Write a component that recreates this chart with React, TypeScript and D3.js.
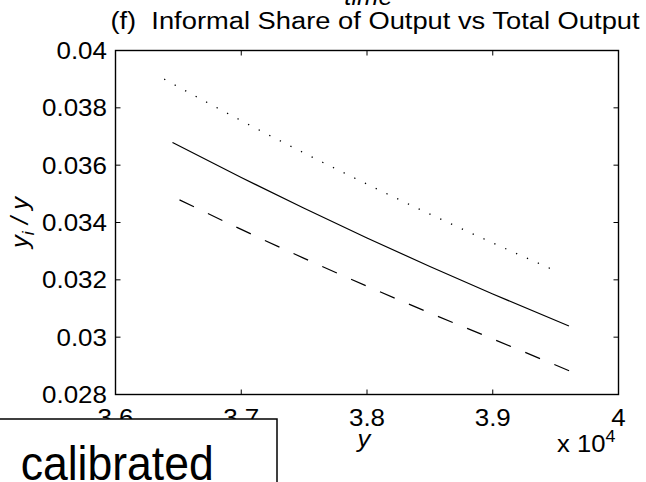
import React from "react";
import * as d3 from "d3";

// Total output (levels) and informal share of output for the three paths
const outputDotted = [36387, 37000, 37500, 38000, 38500, 39000, 39473];
const shareDotted = [0.039, 0.037553, 0.036423, 0.035338, 0.034293, 0.033288, 0.032366];

const outputSolid = [36453, 37000, 37500, 38000, 38500, 39000, 39606];
const shareSolid = [0.03679, 0.03557, 0.034495, 0.03346, 0.032465, 0.031505, 0.03039];

const outputDashed = [36509, 37000, 37500, 38000, 38500, 39000, 39650];
const shareDashed = [0.03479, 0.033759, 0.032749, 0.031779, 0.030844, 0.029939, 0.02875];

const xTicks = [36000, 37000, 38000, 39000, 40000];
const yTicks = [0.028, 0.03, 0.032, 0.034, 0.036, 0.038, 0.04];

const titleText = "(f)  Informal Share of Output vs Total Output";
const upperLabel = "time";
const boxLabel = "calibrated";

const W = 646;
const H = 482;
const left = 115.5;
const right = 618.5;
const top = 50.5;
const bottom = 394.5;
const font = "'Liberation Sans', Arial, Helvetica, sans-serif";
const stretch = 1.115; // glyphs are slightly wider than plain Arial

type TProps = {
  x: number;
  y: number;
  size: number;
  anchor?: "start" | "middle" | "end";
  italic?: boolean;
  children: React.ReactNode;
};

// Text drawn with a horizontal stretch about its anchor point
function T({ x, y, size, anchor = "start", italic, children }: TProps) {
  return (
    <text
      transform={`translate(${x},${y}) scale(${stretch},1)`}
      textAnchor={anchor}
      fontSize={size}
      fontStyle={italic ? "italic" : undefined}
      style={{ whiteSpace: "pre" }}
    >
      {children}
    </text>
  );
}

export default function App() {
  const x = d3.scaleLinear().domain([36000, 40000]).range([left, right]);
  const y = d3.scaleLinear().domain([0.028, 0.04]).range([bottom, top]);

  const line = d3
    .line<[number, number]>()
    .x((d) => x(d[0]))
    .y((d) => y(d[1]))
    .curve(d3.curveMonotoneX);

  const zip = (a: number[], b: number[]) => a.map((v, i) => [v, b[i]] as [number, number]);

  const series = [
    { xs: outputDotted, ys: shareDotted, dash: "1.3 10.6", width: 1.3 },
    { xs: outputSolid, ys: shareSolid, dash: undefined, width: 1.2 },
    { xs: outputDashed, ys: shareDashed, dash: "16 15.5", width: 1.2 },
  ];

  const tickLen = 5;
  const fmtX = (v: number) => String(+(v / 10000).toFixed(1));
  const fmtY = (v: number) => String(+v.toFixed(3));

  return (
    <svg
      width={W}
      height={H}
      style={{ position: "fixed", left: 0, top: 0, background: "#fff" }}
      fontFamily={font}
    >
      <rect x={0} y={0} width={W} height={H} fill="#fff" />

      {/* label of the panel above, partly clipped */}
      <T x={368.5} y={5} size={23} anchor="middle" italic>
        {upperLabel}
      </T>

      <T x={375} y={29} size={24.5} anchor="middle">
        {titleText}
      </T>

      {/* curves */}
      {series.map((s, i) => (
        <path
          key={i}
          d={line(zip(s.xs, s.ys)) || ""}
          fill="none"
          stroke="#000"
          strokeWidth={s.width}
          strokeDasharray={s.dash}
        />
      ))}

      {/* frame */}
      <rect
        x={left}
        y={top}
        width={right - left}
        height={bottom - top}
        fill="none"
        stroke="#000"
        strokeWidth={1.4}
      />

      {/* x ticks, bottom and top */}
      {xTicks.map((t) => (
        <g key={"x" + t}>
          <line x1={x(t)} x2={x(t)} y1={bottom} y2={bottom - tickLen} stroke="#000" strokeWidth={1} />
          <line x1={x(t)} x2={x(t)} y1={top} y2={top + tickLen} stroke="#000" strokeWidth={1} />
          <T x={x(t)} y={426} size={23.3} anchor="middle">
            {fmtX(t)}
          </T>
        </g>
      ))}

      {/* y ticks, left and right */}
      {yTicks.map((t) => (
        <g key={"y" + t}>
          <line x1={left} x2={left + tickLen} y1={y(t)} y2={y(t)} stroke="#000" strokeWidth={1} />
          <line x1={right} x2={right - tickLen} y1={y(t)} y2={y(t)} stroke="#000" strokeWidth={1} />
          <T x={107} y={y(t) + 8.4} size={23.3} anchor="end">
            {fmtY(t)}
          </T>
        </g>
      ))}

      {/* axis labels */}
      <T x={364} y={447} size={23} anchor="middle" italic>
        y
      </T>
      <T x={557} y={452} size={23}>
        x 10
        <tspan dy={-10} fontSize={16}>
          4
        </tspan>
      </T>
      <text
        transform={`translate(28, ${(top + bottom) / 2}) rotate(-90) scale(${stretch},1)`}
        textAnchor="middle"
        fontSize={23}
        fontStyle="italic"
      >
        y
        <tspan dy={6} fontSize={16}>
          i
        </tspan>
        <tspan dy={-6}> / y</tspan>
      </text>

      {/* annotation box */}
      <rect x={-2} y={419} width={279} height={80} fill="#fff" stroke="#000" strokeWidth={1.5} />
      <text x={20.7} y={480} fontSize={48} textLength={193} lengthAdjust="spacingAndGlyphs">
        {boxLabel}
      </text>
    </svg>
  );
}
